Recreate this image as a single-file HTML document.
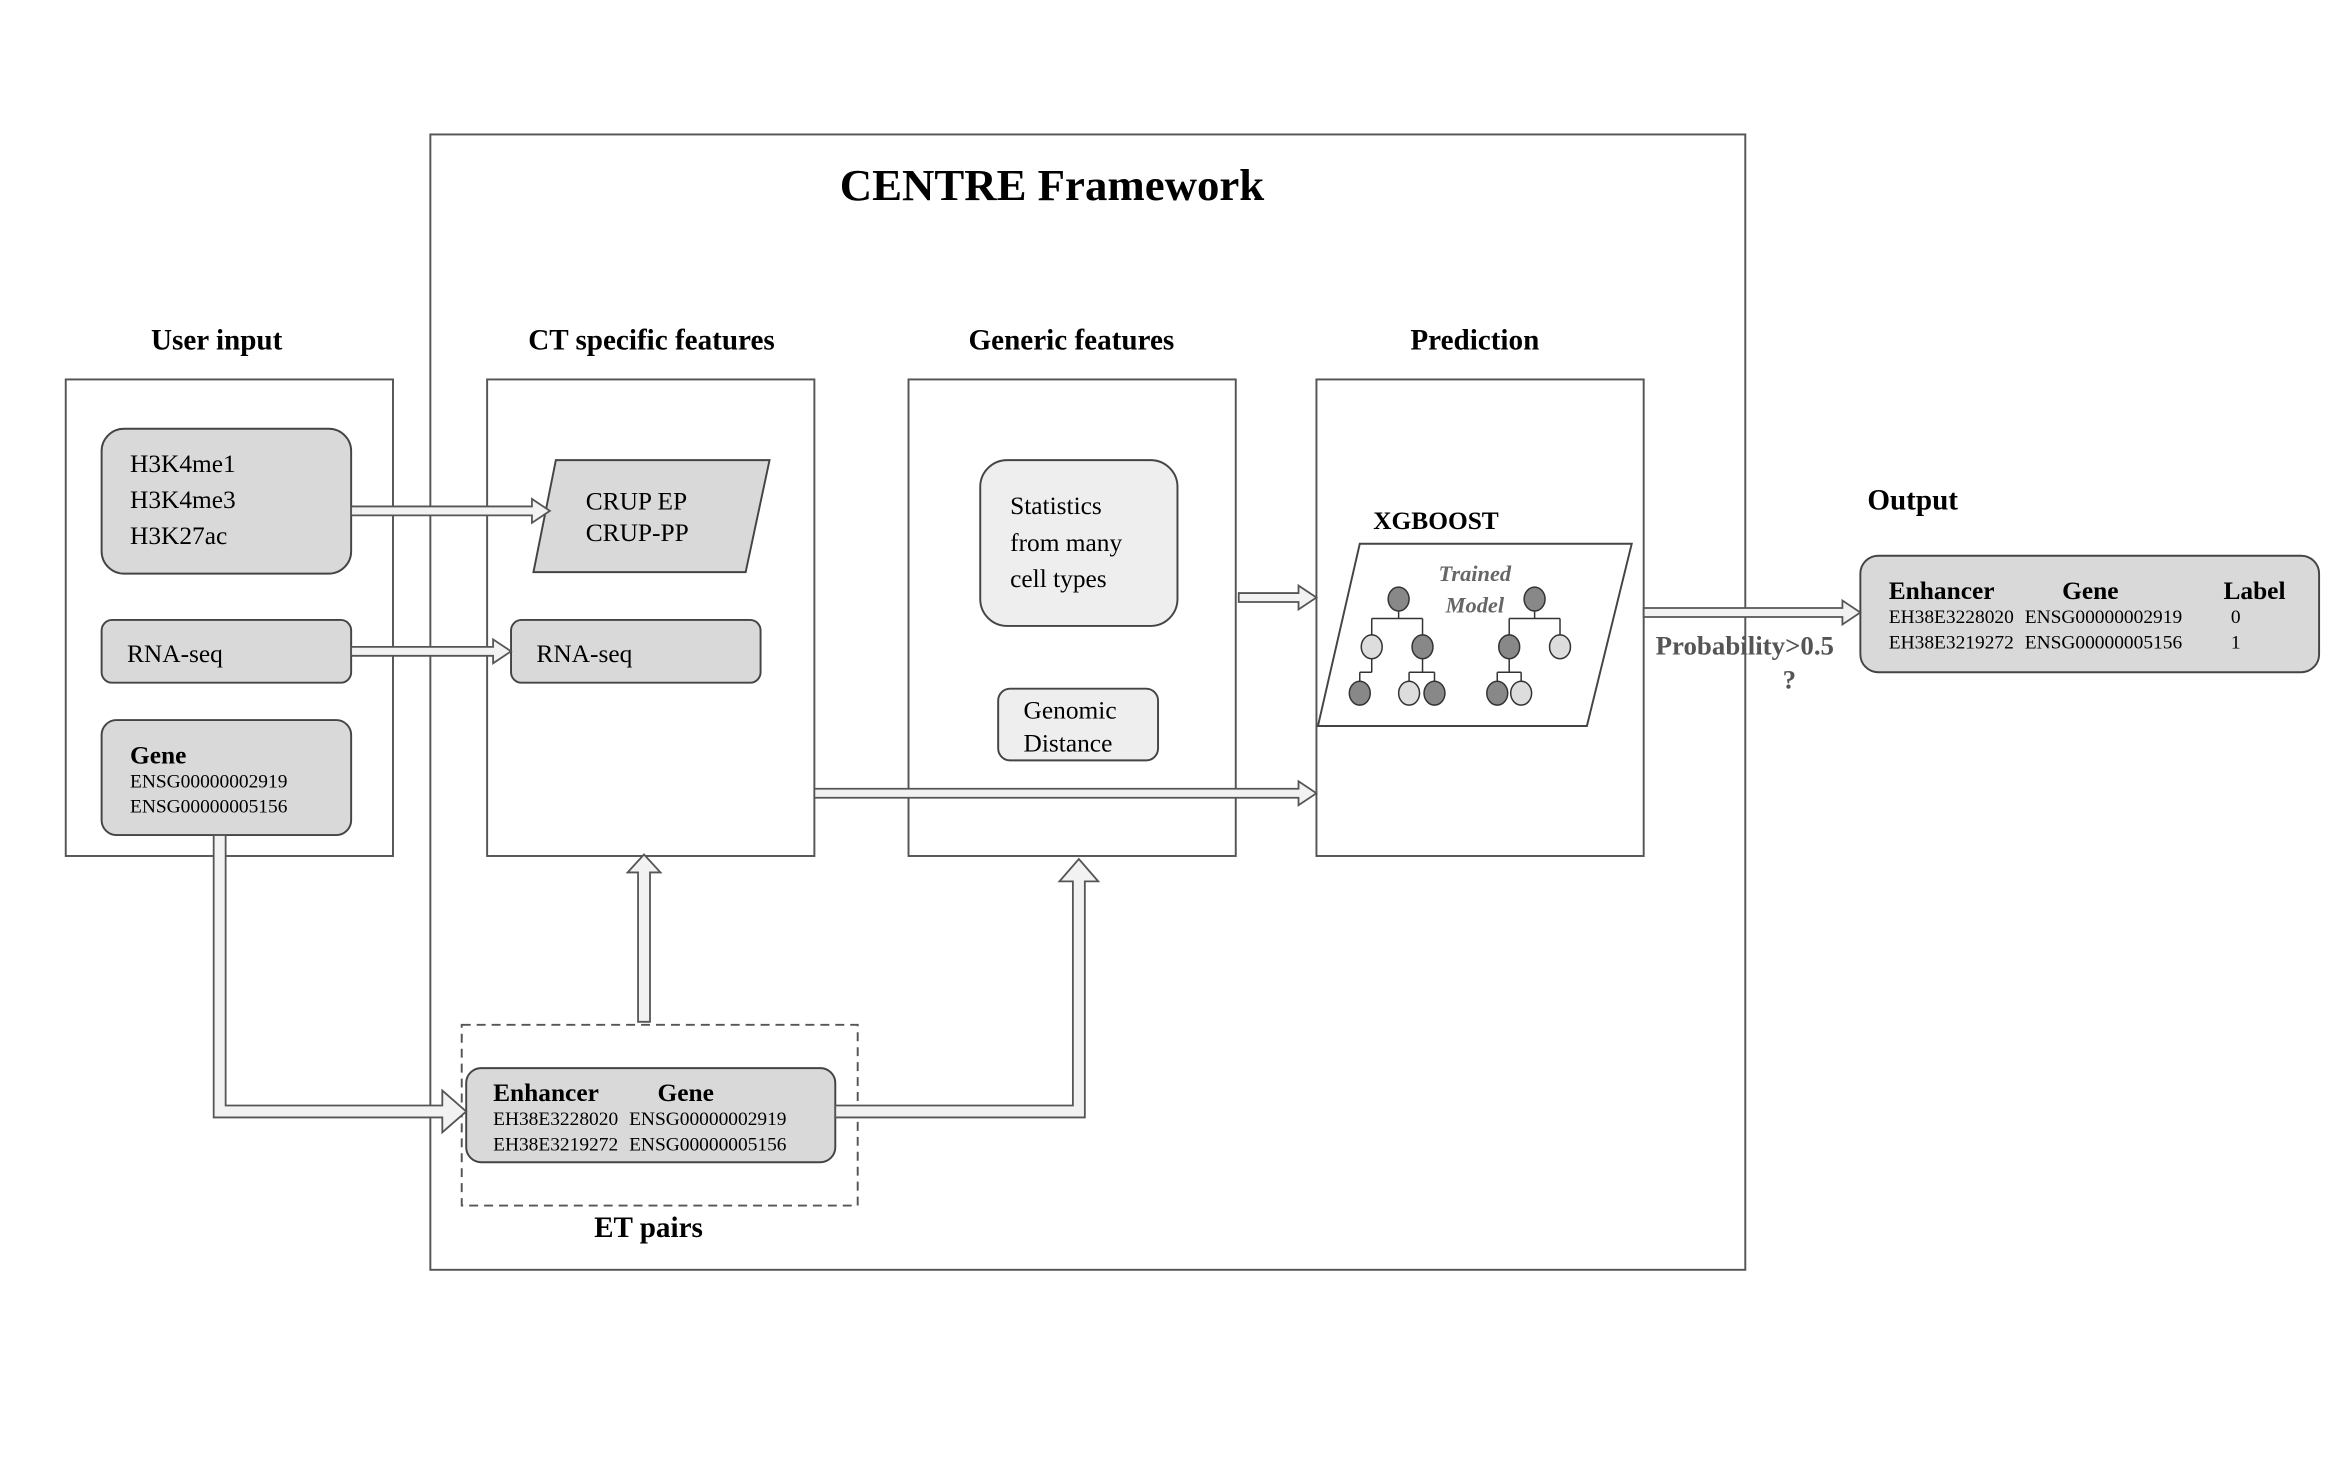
<!DOCTYPE html>
<html><head><meta charset="utf-8"><style>
html,body{margin:0;padding:0;background:#fff;}
svg{display:block;}
text{font-family:"Liberation Serif",serif;fill:#000;}
.b{font-weight:bold;}
</style></head><body>
<svg width="2343" height="1464" viewBox="0 0 1568 980" preserveAspectRatio="none" xmlns="http://www.w3.org/2000/svg">
<rect width="1568" height="980" fill="#fff"/>
<g stroke="#555" stroke-width="1.3" fill="none">
<rect x="288" y="90" width="880" height="760"/>
<rect x="44" y="254" width="219" height="319"/>
<rect x="326" y="254" width="219" height="319"/>
<rect x="608" y="254" width="219" height="319"/>
<rect x="881" y="254" width="219" height="319"/>
<rect x="309" y="686" width="265" height="121" stroke-dasharray="6,4"/>
</g>
<text x="704" y="134" font-size="30" class="b" text-anchor="middle">CENTRE Framework</text>
<g font-size="19.5" class="b" text-anchor="middle">
<text x="145" y="234">User input</text>
<text x="436" y="234">CT specific features</text>
<text x="717" y="234">Generic features</text>
<text x="987" y="234">Prediction</text>
<text x="1280" y="341">Output</text>
<text x="434" y="828">ET pairs</text>
<text x="961" y="354" font-size="17">XGBOOST</text>
</g>
<g stroke="#444" stroke-width="1.3">
<rect x="68" y="287" width="167" height="97" rx="15" fill="#d9d9d9"/>
<rect x="68" y="415" width="167" height="42" rx="7" fill="#d9d9d9"/>
<rect x="68" y="482" width="167" height="77" rx="10" fill="#d9d9d9"/>
<polygon points="372,308 515,308 499,383 357,383" fill="#d9d9d9"/>
<rect x="342" y="415" width="167" height="42" rx="7" fill="#d9d9d9"/>
<rect x="656" y="308" width="132" height="111" rx="18" fill="#eee"/>
<rect x="668" y="461" width="107" height="48" rx="8" fill="#eee"/>
<polygon points="910,364 1092,364 1062,486 882,486" fill="#fff"/>
<rect x="1245" y="372" width="307" height="78" rx="12" fill="#d9d9d9"/>
<rect x="312" y="715" width="247" height="63" rx="10" fill="#d9d9d9"/>
</g>
<g font-size="17">
<text x="87" y="316">H3K4me1</text>
<text x="87" y="340">H3K4me3</text>
<text x="87" y="364">H3K27ac</text>
<text x="85" y="443">RNA-seq</text>
<text x="359" y="443">RNA-seq</text>
<text x="392" y="341">CRUP EP</text>
<text x="392" y="362">CRUP-PP</text>
<text x="676" y="344">Statistics</text>
<text x="676" y="369">from many</text>
<text x="676" y="393">cell types</text>
<text x="685" y="481">Genomic</text>
<text x="685" y="503">Distance</text>
<text x="87" y="511" class="b">Gene</text>
<text x="330" y="737" class="b">Enhancer</text>
<text x="440" y="737" class="b">Gene</text>
<text x="1264" y="401" class="b">Enhancer</text>
<text x="1380" y="401" class="b">Gene</text>
<text x="1488" y="401" class="b">Label</text>
<text x="1108" y="438" font-size="18" class="b" style="fill:#555">Probability&gt;0.5</text>
<text x="1193" y="461" font-size="18" class="b" style="fill:#555">?</text>
<text x="987" y="389" font-size="15" class="b" font-style="italic" text-anchor="middle" style="fill:#666">Trained</text>
<text x="987" y="410" font-size="15" class="b" font-style="italic" text-anchor="middle" style="fill:#666">Model</text>
</g>
<g font-size="13">
<text x="87" y="527">ENSG00000002919</text>
<text x="87" y="544">ENSG00000005156</text>
<text x="330" y="753">EH38E3228020</text><text x="421" y="753">ENSG00000002919</text>
<text x="330" y="770">EH38E3219272</text><text x="421" y="770">ENSG00000005156</text>
<text x="1264" y="417">EH38E3228020</text><text x="1355" y="417">ENSG00000002919</text><text x="1493" y="417">0</text>
<text x="1264" y="434">EH38E3219272</text><text x="1355" y="434">ENSG00000005156</text><text x="1493" y="434">1</text>
</g>
<g stroke="#333" stroke-width="1" fill="none">
<path d="M936,401 V414 M918,414 H952 M918,414 V426 M952,414 V426 M918,433 V450 M910,450 H918 M910,450 V457 M952,433 V450 M943,450 H960 M943,450 V457 M960,450 V457"/>
<path d="M1027,401 V414 M1010,414 H1044 M1010,414 V426 M1044,414 V426 M1010,433 V450 M1002,450 H1018 M1002,450 V457 M1018,450 V457"/>
</g>
<g stroke="#333" stroke-width="1">
<ellipse cx="936" cy="401" rx="7" ry="8" fill="#888"/>
<ellipse cx="918" cy="433" rx="7" ry="8" fill="#ddd"/>
<ellipse cx="952" cy="433" rx="7" ry="8" fill="#888"/>
<ellipse cx="910" cy="464" rx="7" ry="8" fill="#888"/>
<ellipse cx="943" cy="464" rx="7" ry="8" fill="#ddd"/>
<ellipse cx="960" cy="464" rx="7" ry="8" fill="#888"/>
<ellipse cx="1027" cy="401" rx="7" ry="8" fill="#888"/>
<ellipse cx="1010" cy="433" rx="7" ry="8" fill="#888"/>
<ellipse cx="1044" cy="433" rx="7" ry="8" fill="#ddd"/>
<ellipse cx="1002" cy="464" rx="7" ry="8" fill="#888"/>
<ellipse cx="1018" cy="464" rx="7" ry="8" fill="#ddd"/>
</g>
<g stroke="#555" stroke-width="1.2" fill="#f2f2f2">
<polygon points="235,339 356,339 356,334 368,342 356,350 356,345 235,345"/>
<polygon points="235,433 330,433 330,428 342,436 330,444 330,439 235,439"/>
<polygon points="829,397 869,397 869,392 881,400 869,408 869,403 829,403"/>
<polygon points="545,528 869,528 869,523 881,531 869,539 869,534 545,534"/>
<polygon points="1100,407 1233,407 1233,402 1245,410 1233,418 1233,413 1100,413"/>
<polygon points="427,684 427,584 420,584 431,572 442,584 435,584 435,684"/>
<polygon points="559,740 718,740 718,590 709,590 722,575 735,590 726,590 726,748 559,748"/>
<polygon points="143,559 151,559 151,740 296,740 296,730 312,744 296,758 296,748 143,748"/>
</g>
</svg>
</body></html>
